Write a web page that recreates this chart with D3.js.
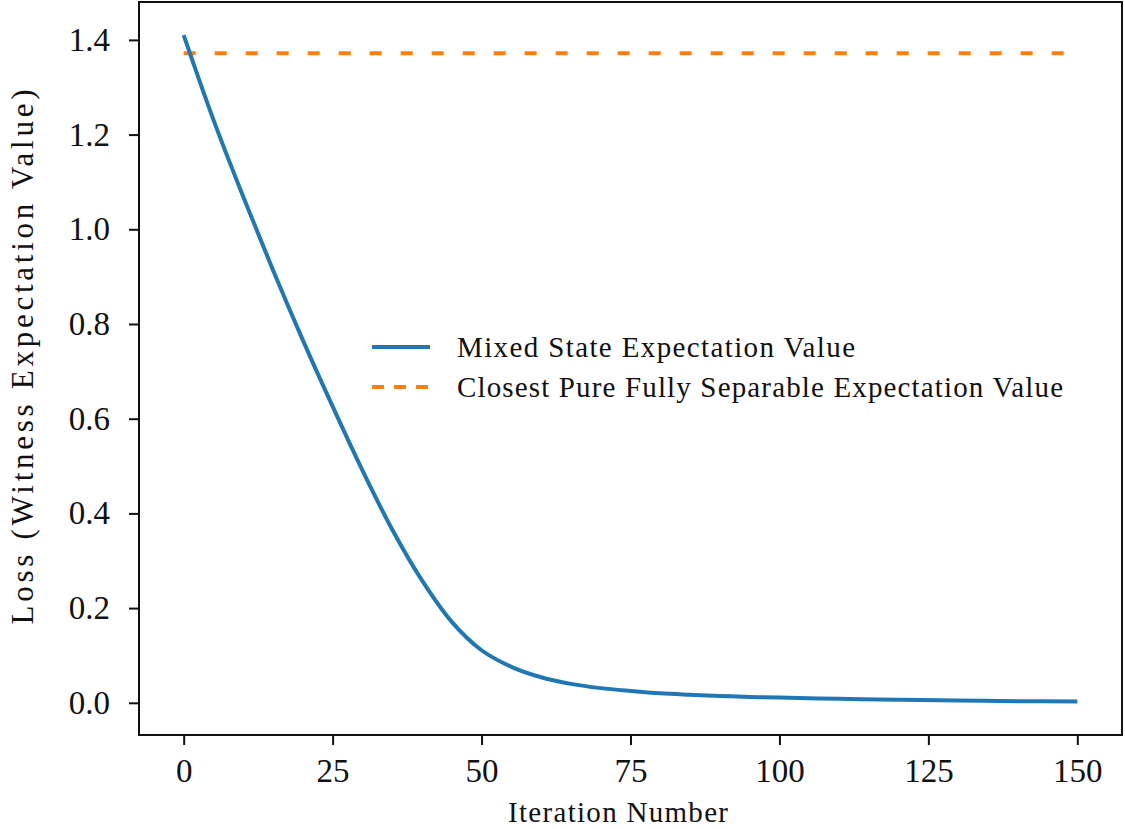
<!DOCTYPE html>
<html>
<head>
<meta charset="utf-8">
<script src="https://cdn.jsdelivr.net/npm/d3@7"></script>
<style>
  body { margin: 0; background: #fff; }
  text { font-family: "Liberation Serif", "DejaVu Serif", serif; fill: #111; }
</style>
</head>
<body>
<div id="chart"></div>
<script>
// data
const iterations = [0, 5, 10, 15, 20, 25, 30, 35, 40, 45, 50, 55, 60, 65, 70, 75, 80, 85, 90, 95, 100, 110, 120, 130, 140, 150];
const mixedLoss = [1.41, 1.231, 1.0685, 0.9135, 0.766, 0.626, 0.491, 0.366, 0.2585, 0.171, 0.111, 0.076, 0.054, 0.040, 0.031, 0.025, 0.020, 0.017, 0.0145, 0.0125, 0.011, 0.0085, 0.0065, 0.005, 0.0035, 0.0025];
const separableValue = 1.372;
const xTicks = [0, 25, 50, 75, 100, 125, 150];
const yTicks = [0.0, 0.2, 0.4, 0.6, 0.8, 1.0, 1.2, 1.4];
const legendLabels = ['Mixed State Expectation Value', 'Closest Pure Fully Separable Expectation Value'];

const width = 1125;
const height = 829;
const margin = {top: 2, left: 139, bottom: 94, right: 3};

const x = d3.scaleLinear()
    .domain([-7.5, 157.5])
    .range([margin.left, width - margin.right]);

const y = d3.scaleLinear()
    .domain([-0.068, 1.48])
    .range([height - margin.bottom, margin.top]);

const svg = d3.select('#chart').append('svg')
    .attr('width', width)
    .attr('height', height);

// lines
const line = d3.line()
    .x((d, i) => x(iterations[i]))
    .y(d => y(d))
    .curve(d3.curveCatmullRom.alpha(0.5));

svg.append('line')
    .attr('x1', x(0)).attr('x2', x(150))
    .attr('y1', y(separableValue)).attr('y2', y(separableValue))
    .attr('stroke', '#ff7f0e')
    .attr('stroke-width', 4)
    .attr('stroke-dasharray', '12 19');

svg.append('path')
    .datum(mixedLoss)
    .attr('fill', 'none')
    .attr('stroke', '#1f77b4')
    .attr('stroke-width', 4)
    .attr('d', line);

// axes
const xAxis = g => g
    .attr('transform', `translate(0, ${height - margin.bottom})`)
    .call(d3.axisBottom(x).tickValues(xTicks).tickSize(10).tickPadding(14).tickFormat(d3.format('d')))
    .call(g => g.select('.domain').remove());

const yAxis = g => g
    .attr('transform', `translate(${margin.left}, 0)`)
    .call(d3.axisLeft(y).tickValues(yTicks).tickSize(10).tickPadding(19).tickFormat(d3.format('.1f')))
    .call(g => g.select('.domain').remove());

svg.append('g').call(xAxis);
svg.append('g').call(yAxis);

svg.selectAll('.tick line').attr('stroke', '#111').attr('stroke-width', 2);
svg.selectAll('.tick text').style('font-size', '33px').attr('fill', '#111');

// frame
svg.append('rect')
    .attr('x', margin.left).attr('y', margin.top)
    .attr('width', width - margin.left - margin.right)
    .attr('height', height - margin.top - margin.bottom)
    .attr('fill', 'none')
    .attr('stroke', '#111')
    .attr('stroke-width', 2);

// labels
svg.append('text')
    .attr('x', 618).attr('y', 822)
    .attr('text-anchor', 'middle')
    .style('font-size', '29px')
    .attr('textLength', 220)
    .attr('lengthAdjust', 'spacing')
    .text('Iteration Number');

svg.append('text')
    .attr('transform', 'translate(33, 357) rotate(-90)')
    .attr('text-anchor', 'middle')
    .style('font-size', '31px')
    .attr('textLength', 535)
    .attr('lengthAdjust', 'spacing')
    .text('Loss (Witness Expectation Value)');

// legend
const legend = svg.append('g');
const legendY = [347, 387];
legend.append('line')
    .attr('x1', 372).attr('x2', 430)
    .attr('y1', legendY[0]).attr('y2', legendY[0])
    .attr('stroke', '#1f77b4').attr('stroke-width', 4);
legend.append('line')
    .attr('x1', 372).attr('x2', 430)
    .attr('y1', legendY[1]).attr('y2', legendY[1])
    .attr('stroke', '#ff7f0e').attr('stroke-width', 4)
    .attr('stroke-dasharray', '12 10');

const legendWidths = [398, 606];
legendLabels.forEach((label, i) => {
    legend.append('text')
        .attr('x', 457).attr('y', legendY[i] + 10)
        .style('font-size', '29px')
        .attr('textLength', legendWidths[i])
        .attr('lengthAdjust', 'spacing')
        .text(label);
});
</script>
</body>
</html>
